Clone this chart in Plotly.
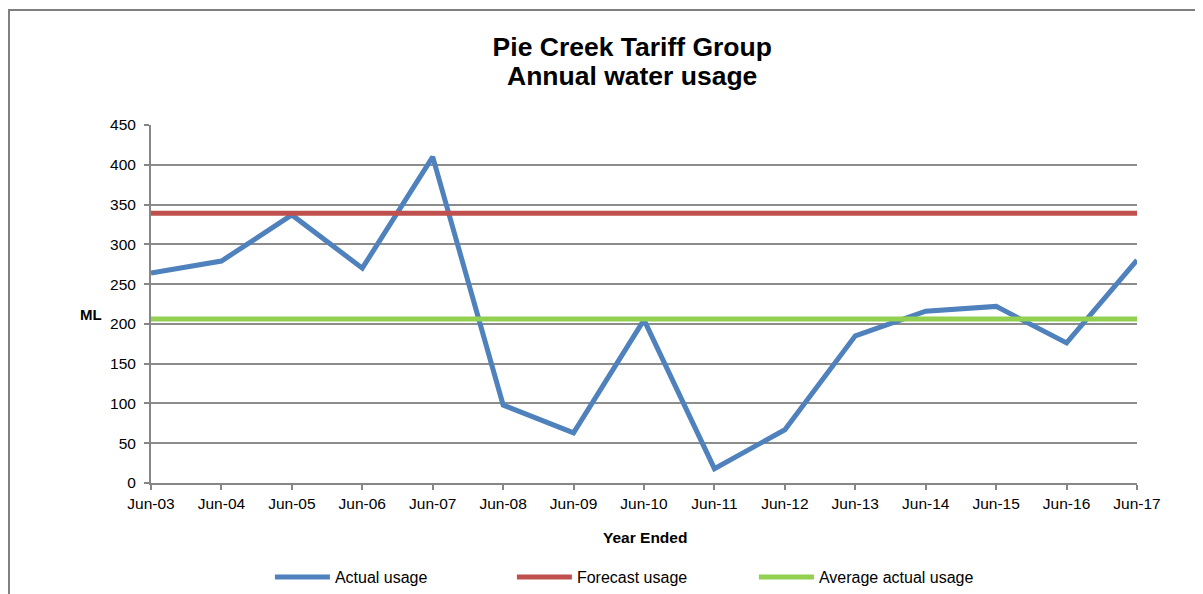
import plotly.graph_objects as go

years = ["Jun-03", "Jun-04", "Jun-05", "Jun-06", "Jun-07", "Jun-08", "Jun-09", "Jun-10",
         "Jun-11", "Jun-12", "Jun-13", "Jun-14", "Jun-15", "Jun-16", "Jun-17"]
actual_usage = [264, 279, 337, 270, 410, 98, 63, 205, 18, 67, 185, 216, 222, 176, 280]
forecast_usage = [339, 339, 339, 339, 339, 339, 339, 339, 339, 339, 339, 339, 339, 339, 339]
average_usage = [206, 206, 206, 206, 206, 206, 206, 206, 206, 206, 206, 206, 206, 206, 206]
y_ticks = [0, 50, 100, 150, 200, 250, 300, 350, 400, 450]

FONT = "Arial, Liberation Sans, Helvetica, sans-serif"
GRID = "#8c8c8c"
AXIS = "#868686"

fig = go.Figure()
fig.add_trace(go.Scatter(x=years, y=actual_usage, mode="lines", name="Actual usage",
                         line=dict(color="#4F81BD", width=5)))
fig.add_trace(go.Scatter(x=years, y=forecast_usage, mode="lines", name="Forecast usage",
                         line=dict(color="#C0504D", width=5)))
fig.add_trace(go.Scatter(x=years, y=average_usage, mode="lines", name="Average actual usage",
                         line=dict(color="#92D050", width=5)))

fig.update_layout(
    width=1195, height=586,
    margin=dict(l=143, r=66, t=117, b=111, autoexpand=False),
    paper_bgcolor="white", plot_bgcolor="white",
    font=dict(family=FONT, size=15.5, color="black"),
    title=dict(text="<b>Pie Creek Tariff Group</b>",
               x=0.5224, xanchor="center", xref="container",
               y=1 - 39 / 586, yanchor="middle", yref="container",
               font=dict(family=FONT, size=26.5, color="black")),
    showlegend=True,
    legend=dict(orientation="h", x=0.1206, xanchor="left", y=-0.2626, yanchor="middle",
                entrywidth=172, entrywidthmode="pixels", itemwidth=55,
                font=dict(family=FONT, size=16, color="black"),
                bgcolor="rgba(0,0,0,0)"),
    xaxis=dict(type="category", range=[0, 14], showgrid=False,
               showline=True, linecolor=AXIS, linewidth=2,
               ticks="outside", ticklen=5, tickwidth=2, tickcolor=AXIS,
               tickfont=dict(size=15.5), zeroline=False),
    yaxis=dict(range=[0, 450], tickvals=y_ticks, showgrid=True, gridcolor=GRID, gridwidth=2,
               showline=True, linecolor=AXIS, linewidth=2,
               ticks="outside", ticklen=5, tickwidth=2, tickcolor=AXIS,
               ticklabelstandoff=5,
               tickfont=dict(size=15.5), zeroline=False),
    annotations=[
        dict(text="<b>Annual water usage</b>", x=0.488, xref="paper",
             y=(475 - 68) / 358, yref="paper", showarrow=False,
             xanchor="center", yanchor="middle",
             font=dict(family=FONT, size=26.5, color="black")),
        dict(text="<b>ML</b>", x=-0.0609, y=0.472, xref="paper", yref="paper",
             showarrow=False, xanchor="center", yanchor="middle",
             font=dict(family=FONT, size=15, color="black")),
        dict(text="<b>Year Ended</b>", x=0.501, y=-0.1536, xref="paper", yref="paper",
             showarrow=False, xanchor="center", yanchor="middle",
             font=dict(family=FONT, size=15.5, color="black")),
    ],
    shapes=[dict(type="rect", xref="paper", yref="paper",
                 x0=-0.144, x1=1.2, y0=-0.5, y1=1.3212,
                 line=dict(color="#7f7f7f", width=2), fillcolor="rgba(0,0,0,0)", layer="below")],
)

fig.write_html("out.html")
